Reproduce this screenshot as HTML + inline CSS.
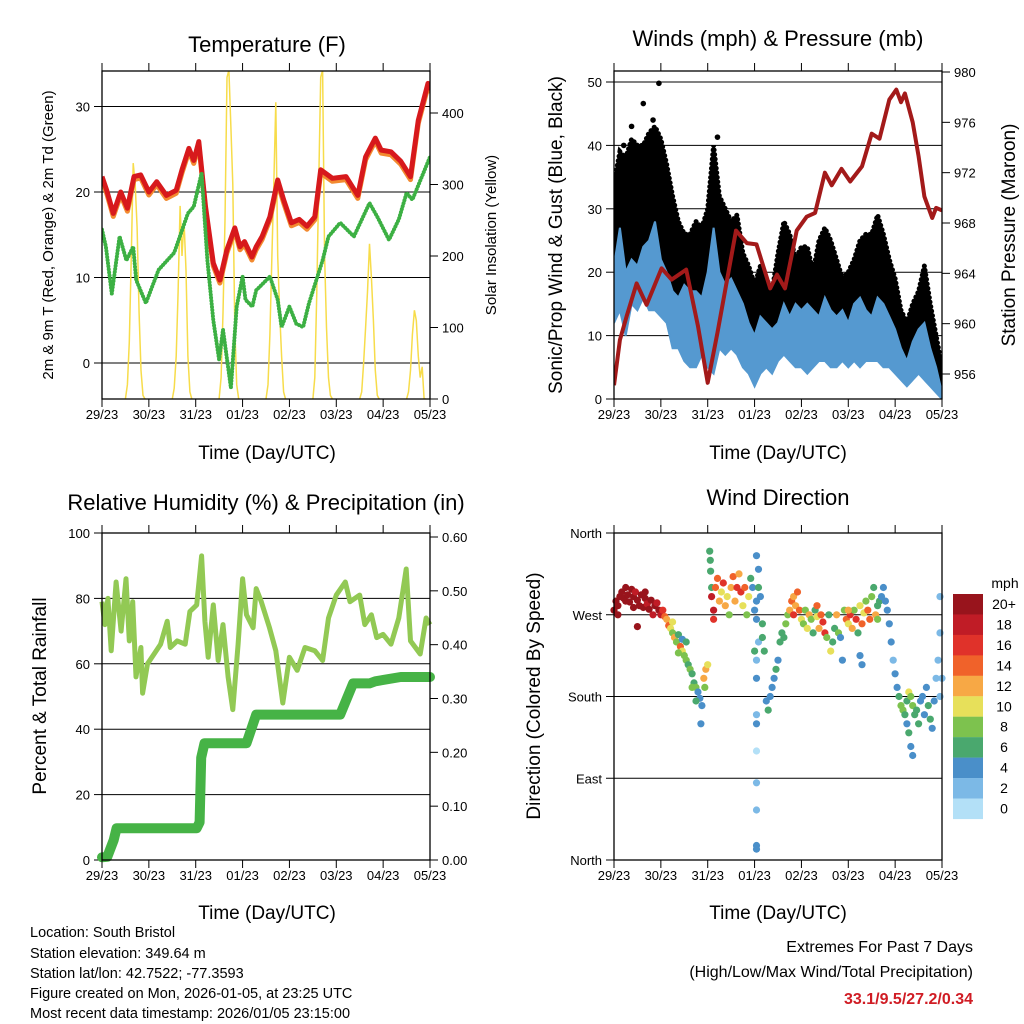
<!DOCTYPE html>
<html><head><meta charset="utf-8"><style>
html,body{margin:0;padding:0;background:#fff;}
svg{display:block;font-family:"Liberation Sans",Arial,sans-serif;}
</style></head><body>
<svg id="root" width="1024" height="1024" viewBox="0 0 1024 1024" xmlns="http://www.w3.org/2000/svg">
<rect width="1024" height="1024" fill="#fff"/>
<g id="p1"></g>
<g id="p2"></g>
<g id="p3"></g>
<g id="p4"></g>
<g id="legend"></g>
<text x="267" y="52" font-size="22" text-anchor="middle">Temperature (F)</text>
<text x="778" y="46" font-size="22" text-anchor="middle">Winds (mph) &amp; Pressure (mb)</text>
<text x="266" y="510" font-size="22" text-anchor="middle">Relative Humidity (%) &amp; Precipitation (in)</text>
<text x="778" y="505" font-size="22" text-anchor="middle">Wind Direction</text>
<text transform="translate(53,235) rotate(-90)" font-size="15" text-anchor="middle">2m &amp; 9m T (Red, Orange) &amp; 2m Td (Green)</text>
<text transform="translate(496,235) rotate(-90)" font-size="15" text-anchor="middle">Solar Insolation (Yellow)</text>
<text transform="translate(562,235) rotate(-90)" font-size="19" text-anchor="middle">Sonic/Prop Wind &amp; Gust (Blue, Black)</text>
<text transform="translate(1015,235) rotate(-90)" font-size="19" text-anchor="middle">Station Pressure (Maroon)</text>
<text transform="translate(46,696) rotate(-90)" font-size="19" text-anchor="middle">Percent &amp; Total Rainfall</text>
<text transform="translate(540,696) rotate(-90)" font-size="19" text-anchor="middle">Direction (Colored By Speed)</text>
<text x="267" y="459" font-size="19" text-anchor="middle">Time (Day/UTC)</text>
<text x="778" y="459" font-size="19" text-anchor="middle">Time (Day/UTC)</text>
<text x="267" y="919" font-size="19" text-anchor="middle">Time (Day/UTC)</text>
<text x="778" y="919" font-size="19" text-anchor="middle">Time (Day/UTC)</text>
<g font-size="14.5">
<text x="30" y="937">Location: South Bristol</text>
<text x="30" y="958">Station elevation: 349.64 m</text>
<text x="30" y="978">Station lat/lon: 42.7522; -77.3593</text>
<text x="30" y="998">Figure created on Mon, 2026-01-05, at 23:25 UTC</text>
<text x="30" y="1018">Most recent data timestamp: 2026/01/05 23:15:00</text>
</g>
<text x="973" y="952" font-size="16" text-anchor="end">Extremes For Past 7 Days</text>
<text x="973" y="977" font-size="16" text-anchor="end">(High/Low/Max Wind/Total Precipitation)</text>
<text x="973" y="1004" font-size="16" font-weight="bold" fill="#d01c24" text-anchor="end">33.1/9.5/27.2/0.34</text>
</svg>
<script>
// ---------- data ----------
const dayLabels=["29/23","30/23","31/23","01/23","02/23","03/23","04/23","05/23"];
const tempTicks=[0,10,20,30];
const solarTicks=[0,100,200,300,400];
const windTicks=[0,10,20,30,40,50];
const presTicks=[956,960,964,968,972,976,980];
const rhTicks=[0,20,40,60,80,100];
const rainTicks=[0,0.1,0.2,0.3,0.4,0.5,0.6];
const rainTickLabels=["0.00","0.10","0.20","0.30","0.40","0.50","0.60"];
const dirTicks=[0,90,180,270,360];
const dirTickLabels=["North","East","South","West","North"];

const tempHours=[0,2.4,5.8,9.6,13,16.4,19.8,24,28,33,38,41,44.5,47,49.6,53,57,60.4,63.9,68,70.7,73,76.8,79,82,86,90,93,97,101,105,109,112,118,125,131,135,140,143,148,153,158,162,167,168];
const tempVals=[21.8,20.2,17.5,20.0,18.1,21.8,22.0,20.0,21.2,19.6,20.2,22.6,25.1,23.7,25.9,18.3,11.7,9.7,13.2,15.8,13.6,14.2,12.4,13.6,14.8,17.1,21.4,19.1,16.4,16.8,16.0,17.1,22.6,21.6,21.8,19.6,24.1,26.3,24.9,24.7,23.6,21.8,28.4,32.7,31.9];
const tdHours=[0,2,5,9,12.5,16,17.5,22.5,29,37,44,47,51,54,57,60,62,66,69,72,73.5,77,79,86,90,92,96,99.5,103,106,113,116,122,129,137,141,147,152,156,159,168];
const tdVals=[15.6,13.6,8.1,14.8,12.0,13.6,9.7,7.0,10.9,12.9,17.5,18.3,22.2,12.0,5.0,0.4,3.9,-2.9,6.6,10.1,7.4,6.6,8.5,10.1,7.4,4.2,6.6,4.6,4.2,7.0,12.0,14.8,16.4,14.8,18.7,17.1,14.4,16.8,19.9,19.1,24.1];
const solarHours=[12,13,14,15,16,17,18,19,20,21,22];
const solarDays=[
 [0,20,80,200,330,300,240,120,40,5,0],
 [0,15,60,150,270,200,250,180,60,10,0],
 [0,30,120,250,450,460,380,300,100,20,0],
 [0,20,90,200,300,415,200,120,60,10,0],
 [0,30,150,300,450,460,200,100,30,5,0],
 [0,10,50,100,150,217,170,110,40,5,0],
 [0,10,40,90,124,110,60,30,45,0,0]];

const presHours=[0,3,6.5,11.6,16.7,24.4,29.5,37,43,48,53,62.5,68,73,80,83.5,87.6,93.6,98.7,103,108,111.5,116.5,121,127,132,136,141,144.6,147,149,153,156,159,163,165,168];
const presVals=[955.1,958.7,960.6,963.2,961.5,964.4,963.5,964.3,959.8,955.3,959.3,967.4,966.4,966.3,962.8,963.9,962.8,967.4,968.5,968.8,972,971,972.3,971.3,972.5,975.1,974.7,977.8,978.6,977.6,978.3,976.0,973.3,970.1,968.4,969.2,969.0];
const windHours=[0,3,6,9,12,15,18,21,24,27,30,33,36,39,42,45,48,51,54,57,60,63,66,69,72,75,78,81,84,87,90,93,96,99,102,105,108,111,114,117,120,123,126,129,132,135,138,141,144,147,150,153,156,159,162,165,168];
const gustHi=[34,39,38,41,40,40,42,43,41,37,32,28,26,26,28,27,30,40,32,30,28,29,23,21,18,21,19,17,23,28,26,22,24,24,20,25,27,25,22,19,20,22,25,26,26,29,26,22,19,14,12,15,17,21,15,10,5];
const windHi=[21,27,20,22,21,24,25,28,22,20,17,16,18,17,17,16,20,27,20,18,19,17,15,12,10,13,12,11,12,15,13,15,14,15,14,13,16,14,13,14,12,15,16,14,13,16,15,13,11,8,6,9,11,12,8,5,1];
const windLo=[12,14,10,15,14,16,14,14,13,12,8,8,6,5,5,7,5,4,8,7,8,7,5,4,2,4,5,4,6,7,6,5,5,4,5,6,6,5,5,6,5,6,5,6,6,6,5,5,4,3,2,3,4,3,2,1,0];
const gustOutHours=[15,23,53,9,5,20];
const gustOutVals=[46.6,49.8,41.3,43,40,44];

const rhHours=[0,1.5,3,4.7,7.2,9.8,12.3,14,15.7,17.4,19.9,20.8,23.3,26.7,30,33.4,35,38.5,42.6,45,48.5,51,52.7,54.4,57,59.5,62,64.6,67,69.7,72,74,77.4,79,81.6,85.8,89,92.6,96,100,104,109,113,116,120,124.6,127,132,134.6,138,140.7,144,148,152,155.8,158,163,166,168];
const rhVals=[79,72,80,64,85,70,86,67,79,56,65,51,60,63,66,73,65,67,66,76,78,93,73,62,78,61,72,56,46,66,86,75,71,83,79,71,64,48,62,58,65,64,61,74,81,85,79,81,72,75,68,69,66,74,89,67,63,74,72];
const rainHours=[0,2.7,6,7.5,48.5,50,50.8,52.5,74,79,122,128.6,137,140,153,168];
const rainVals=[0.005,0.006,0.037,0.059,0.059,0.07,0.19,0.217,0.217,0.27,0.27,0.328,0.328,0.332,0.34,0.34];

// wind direction points: [hour, direction deg, speed mph]
const dirObs=[[0,275,21],[1,285,21],[2,280,20],[3,290,21],[4,295,22],[5,288,21],[6,300,22],[7,292,20],[8,284,21],[9,298,21],[10,290,20],[11,295,19],[12,286,21],[13,280,20],[14,292,21],[15,278,21],[16,288,20],[17,282,19],[18,276,20],[19,286,21],[20,270,18],[21,280,20],[22,283,19],[23,275,20],[24,270,19],[12,257,21],[2,270,21],[6,285,21],[10,278,21],[16,295,21],
[25,275,16],[26,268,14],[27,265,12],[28,258,14],[29,255,10],[30,250,8],[31,245,12],[32,240,9],[33,248,7],[34,235,14],[35,230,10],[36,225,8],[37,220,9],[38,215,7],[39,210,8],[40,205,6],[41,195,7],[42,190,8],[43,185,5],[44,178,4],[45,170,4],[44.5,150,4],[46,200,12],[47,210,13],[48,215,11],[46.5,190,9],[35,243,5],[37,240,6],[30,262,10],[33,228,9],[40,190,8],[42,175,7],
[49,340,6],[49.3,330,6],[49.5,318,7],[50,300,6],[50,290,18],[51,275,18],[51,265,17],[52,300,14],[53,310,15],[54,285,12],[55,295,10],[56,305,16],[57,280,12],[58,290,10],[59,270,9],[60,300,13],[61,312,14],[62,285,12],[63,300,16],[64,315,12],[65,295,17],[66,280,10],[67,300,14],[68,270,8],[69,290,10],[70,310,7],[71,300,4],[72,275,5],[73,285,4],[74,320,4],[73,265,5],[74,240,3],[73,220,2],[72,230,6],
[73,200,4],[73,160,3],[73,150,4],[73,120,1],[73,85,2],[73,55,2],[73,16,4],[73,12,4],[73,335,4],[74,300,6],[75,290,5],[76,260,7],[76,245,6],[77,230,7],
[78,175,5],[79,165,6],[80,180,4],[81,190,5],[82,200,4],[83,210,6],[84,220,5],[85,240,6],[86,250,7],[87,245,6],[88,260,8],[89,270,9],[90,275,12],[91,285,14],[92,290,13],[93,280,12],[94,295,14],[95,275,15],[96,265,10],[97,260,9],[98,275,8],[99,255,10],[100,270,12],[101,265,8],[102,250,7],[103,275,6],[104,268,10],[105,255,13],[106,270,14],[107,262,16],[108,250,17],[109,245,9],[110,270,7],[111,230,10],[112,240,6],[113,255,7],[114,270,12],[115,250,8],[116,245,4],[117,220,4],[118,275,9],[119,265,14],[120,260,10],[121,270,16],[122,255,12],[123,275,9],[124,265,16],[125,250,7],[126,280,11],[127,260,14],[128,272,10],[129,285,8],[130,275,14],[131,265,15],[132,290,8],[133,300,7],[134,270,13],[135,280,6],[136,285,6],[137,290,4],[138,300,4],[139,285,4],[140,275,5],[141,260,4],[142,240,4],[143,220,3],[144,205,4],[145,190,5],[146,180,6],[147,170,8],[148,165,9],[149,160,7],[150,150,4],[151,140,6],[152,125,4],[153,115,4],[150,175,7],[151,185,10],[152,180,9],[153,170,8],[154,160,7],[155,165,6],[156,150,6],[157,175,5],[158,180,4],[159,160,4],[160,190,4],[161,170,6],[162,155,7],[163,145,5],[164,175,4],[165,200,3],[166,220,2],[167,290,3],[167,250,2],[168,200,3],[167,180,3],[126,225,4],[127,215,4],[92,270,16],[104,280,14],[120,275,12],[135,265,8]];
const legendLabels=["20+","18","16","14","12","10","8","6","4","2","0"];
const legendColors=["#98141c","#c01c26","#e0322a","#f0622a","#f7a845","#e7e05a","#7dc24e","#4aa86e","#4a8fc9","#7cb9e6","#b3e0f7"];

// ---------- helpers ----------
const NS="http://www.w3.org/2000/svg";
function mk(parent,tag,attrs){const e=document.createElementNS(NS,tag);for(const k in attrs)e.setAttribute(k,attrs[k]);parent.appendChild(e);return e;}
function lin(d0,d1,r0,r1){return v=>r0+(v-d0)/(d1-d0)*(r1-r0);}
function pathOf(xs,ys,fx,fy){return xs.map((h,i)=>(i?"L":"M")+fx(h).toFixed(1)+","+fy(ys[i]).toFixed(1)).join("");}
function speedColor(s){let i=Math.floor(s/2);if(i>10)i=10;if(i<0)i=0;return legendColors[10-i];}

function frame(g,L,T,R,B,fx){
  dayLabels.forEach((lab,i)=>{const x=fx(i*24);
    const t=mk(g,"line",{x1:x,y1:B,x2:x,y2:B+8,stroke:"#000","stroke-width":1});
    
    const t2=mk(g,"line",{x1:x,y1:T,x2:x,y2:T-8,stroke:"#000","stroke-width":1});
    
    const tx=mk(g,"text",{x:x,y:B+20,"font-size":13,"text-anchor":"middle"});tx.textContent=lab;
    
  });
}
function box(g,L,T,R,B){const r=mk(g,"rect",{x:L,y:T,width:R-L,height:B-T,fill:"none",stroke:"#000","stroke-width":1.3});
  }
function yAxis(g,ticks,labels,fy,x,side,grid,L,R,fs){
  ticks.forEach((v,i)=>{const y=fy(v);
    if(grid){const gl=mk(g,"line",{x1:L,y1:y,x2:R,y2:y,stroke:"#000","stroke-width":1});
      }
    const t=mk(g,"line",{x1:x,y1:y,x2:x+(side<0?-8:8),y2:y,stroke:"#000","stroke-width":1});
    
    const tx=mk(g,"text",{x:x+(side<0?-12:12),y:y+5,"font-size":fs||13,"text-anchor":side<0?"end":"start"});
    tx.textContent=labels?labels[i]:String(v);
    
  });
}

// ---------- Panel 1 ----------
(function(){
 const g=document.getElementById("p1");const L=102,T=71,R=430,B=399;
 const fx=lin(0,168,L,R), fy=lin(0,10,363,277.5), fs=lin(0,400,399,113);
 yAxis(g,tempTicks,null,fy,L,-1,true,L,R);
 yAxis(g,solarTicks,null,fs,R,1,false,L,R);
 const clip=mk(g,"clipPath",{id:"c1"});mk(clip,"rect",{x:L,y:T,width:R-L,height:B-T});
 const pg=mk(g,"g",{"clip-path":"url(#c1)"});
 solarDays.forEach((d,k)=>{const p=mk(pg,"path",{d:pathOf(solarHours.map(h=>h+24*k),d,fx,fs),fill:"none",stroke:"#f7dc4a","stroke-width":1.5});
   });
 const po=mk(pg,"path",{d:pathOf(tempHours,tempVals.map(v=>v-0.35),fx,fy),fill:"none",stroke:"#f28a30","stroke-width":5,"stroke-linejoin":"round"});
 
 const pr=mk(pg,"path",{d:pathOf(tempHours,tempVals,fx,fy),fill:"none",stroke:"#d7191c","stroke-width":5,"stroke-linejoin":"round"});
 
 const pd=mk(pg,"path",{d:pathOf(tdHours,tdVals,fx,fy),fill:"none",stroke:"#3cb043","stroke-width":4,"stroke-dasharray":"0.1 3","stroke-linecap":"round"});
 
 box(g,L,T,R,B);frame(g,L,T,R,B,fx);
})();

// ---------- Panel 2 ----------
(function(){
 const g=document.getElementById("p2");const L=614,T=71,R=942,B=399;
 const fx=lin(0,168,L,R), fy=lin(0,50,399,82), fp=lin(956,980,374,72);
 yAxis(g,windTicks,null,fy,L,-1,true,L,R);
 yAxis(g,presTicks,null,fp,R,1,false,L,R);
 const clip=mk(g,"clipPath",{id:"c2"});mk(clip,"rect",{x:L,y:T,width:R-L,height:B-T});
 const pg=mk(g,"g",{"clip-path":"url(#c2)"});
 let d=pathOf(windHours,gustHi,fx,fy)+pathOf(windHours.slice().reverse(),windHi.slice().reverse(),fx,fy).replace("M","L")+"Z";
 const gb=mk(pg,"path",{d:d,fill:"#000",stroke:"none"});
 
 const ge=mk(pg,"path",{d:pathOf(windHours,gustHi,fx,fy),fill:"none",stroke:"#000","stroke-width":5,"stroke-dasharray":"0.1 4.5","stroke-linecap":"round"});
 
 gustOutHours.forEach((h,i)=>{const c=mk(pg,"circle",{cx:fx(h),cy:fy(gustOutVals[i]),r:2.8,fill:"#000"});
   });
 d=pathOf(windHours,windHi,fx,fy)+pathOf(windHours.slice().reverse(),windLo.slice().reverse(),fx,fy).replace("M","L")+"Z";
 const wb=mk(pg,"path",{d:d,fill:"#5599d0",stroke:"#5599d0","stroke-width":2});
 
 const pp=mk(pg,"path",{d:pathOf(presHours,presVals,fx,fp),fill:"none",stroke:"#a31a1a","stroke-width":4,"stroke-linejoin":"round"});
 
 box(g,L,T,R,B);frame(g,L,T,R,B,fx);
})();

// ---------- Panel 3 ----------
(function(){
 const g=document.getElementById("p3");const L=102,T=533,R=430,B=860;
 const fx=lin(0,168,L,R), fy=lin(0,100,860,533), fr=lin(0,0.6,860,537);
 yAxis(g,rhTicks.slice(1,5),null,fy,L,-1,true,L,R);
 yAxis(g,[0,100],null,fy,L,-1,false,L,R);
 yAxis(g,rainTicks,rainTickLabels,fr,R,1,false,L,R);
 const clip=mk(g,"clipPath",{id:"c3"});mk(clip,"rect",{x:L-6,y:T,width:R-L+12,height:B-T+6});
 const pg=mk(g,"g",{"clip-path":"url(#c3)"});
 const ph=mk(pg,"path",{d:pathOf(rhHours,rhVals,fx,fy),fill:"none",stroke:"#92c954","stroke-width":5,"stroke-linejoin":"round"});
 
 const pr=mk(pg,"path",{d:pathOf(rainHours,rainVals,fx,fr),fill:"none",stroke:"#46b346","stroke-width":10,"stroke-linejoin":"round","stroke-linecap":"round"});
 
 box(g,L,T,R,B);frame(g,L,T,R,B,fx);
})();

// ---------- Panel 4 ----------
(function(){
 const g=document.getElementById("p4");const L=614,T=533,R=942,B=860;
 const fx=lin(0,168,L,R), fy=lin(0,360,860,533);
 yAxis(g,dirTicks.slice(1,4),dirTickLabels.slice(1,4),fy,L,-1,true,L,R);
 yAxis(g,[0,360],["North","North"],fy,L,-1,false,L,R);
 dirObs.forEach(o=>{const c=mk(g,"circle",{cx:fx(o[0]).toFixed(1),cy:fy(o[1]).toFixed(1),r:3.6,fill:speedColor(o[2])});
   });
 box(g,L,T,R,B);frame(g,L,T,R,B,fx);
 const lg=document.getElementById("legend");
 const ttl=mk(lg,"text",{x:1005,y:588,"font-size":14,"text-anchor":"middle"});ttl.textContent="mph";
 
 legendLabels.forEach((lab,i)=>{const y=594+i*20.45;
   const r=mk(lg,"rect",{x:953,y:y,width:30,height:20.6,fill:legendColors[i]});
   
   const t=mk(lg,"text",{x:1004,y:y+15,"font-size":14,"text-anchor":"middle"});t.textContent=lab;
   });
})();
</script>
</body></html>
